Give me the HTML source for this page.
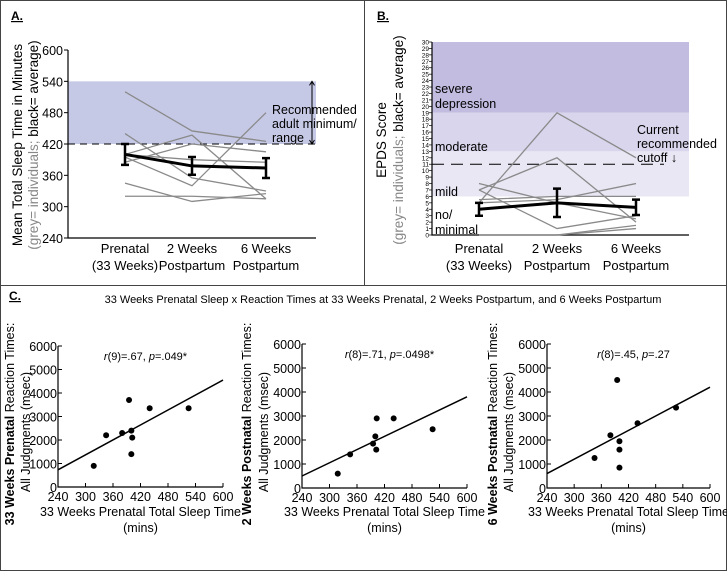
<!DOCTYPE html>
<html><head><meta charset="utf-8"><style>
body{margin:0;background:#fff;}
svg{display:block;font-family:"Liberation Sans",Arial,sans-serif;}
</style></head><body>
<svg id="fig" width="727" height="571" viewBox="0 0 727 571">
<rect x="0.5" y="0.5" width="726" height="570" fill="#fff" stroke="#444"/>
<line x1="0" y1="285.5" x2="727" y2="285.5" stroke="#444"/>
<line x1="364.5" y1="0" x2="364.5" y2="285" stroke="#444"/>
<g id="A"></g>
<g id="B"></g>
<g id="C"></g>
</svg>
<script>
// ---------- Panel A data ----------
const catsA = ["Prenatal|(33 Weeks)", "2 Weeks|Postpartum", "6 Weeks|Postpartum"];
const ticksA = [240, 300, 360, 420, 480, 540, 600];
const indivA = [
  [520, 445, 425], [440, 355, 330], [400, 437, 315], [395, 340, 480],
  [385, 420, 405], [400, 390, 385], [345, 310, 325], [320, 320, 315]
];
const meanA = [400, 378, 374];
const errA = [20, 17, 19];
// ---------- Panel B data ----------
const catsB = catsA;
const indivB = [
  [5, 19, 12], [7, 12, 2], [8, 5, 2.5], [7, 1, 3], [5, 5.5, 8],
  [5.5, 6, 6], [0, 0, 1.5], [0, 0, 1]
];
const meanB = [4, 5, 4.3];
const errB = [1, 2.2, 1.2];
const bandsB = [[19, 30, "#c1bce0"], [13, 19, "#d8d5ec"], [6, 13, "#e9e7f4"]];
// ---------- Panel C data ----------
const xTicksC = [240, 300, 360, 420, 480, 540, 600];
const yTicksC = [0, 1000, 2000, 3000, 4000, 5000, 6000];
const sleepC1 = [318, 345, 380, 395, 400, 402, 400, 440, 525];
const rtC1 = [900, 2200, 2300, 3700, 2400, 2100, 1400, 3350, 3350];
const fitC1 = [730, 4550];
const sleepC2 = [318, 345, 395, 400, 402, 403, 440, 525];
const rtC2 = [600, 1400, 1850, 2150, 1600, 2900, 2900, 2450];
const fitC2 = [500, 3800];
const sleepC3 = [345, 380, 395, 400, 400, 400, 440, 525];
const rtC3 = [1250, 2200, 4500, 1950, 1600, 850, 2700, 3350];
const fitC3 = [600, 4200];

const NS = "http://www.w3.org/2000/svg";
function mk(parent, tag, attrs, text) {
  const e = document.createElementNS(NS, tag);
  for (const k in attrs) e.setAttribute(k, attrs[k]);
  if (text !== undefined) e.textContent = text;
  parent.appendChild(e);
  return e;
}

// ================= Panel A =================
(function () {
  const g = document.getElementById("A");
  const x0 = 68, x1 = 316, yTop = 50, yBot = 238;
  const y = v => yBot - (v - 240) / 360 * (yBot - yTop);
  const cx = [125, 192, 266];
  let t = mk(g, "text", {x: 11, y: 20, "font-size": 12, "font-weight": "bold", "text-decoration": "underline"}, "A.");
  
  
  let r = mk(g, "rect", {x: x0, y: y(540), width: x1 - x0, height: y(420) - y(540), fill: "#c6c9e6"});
  
  
  let d = mk(g, "line", {x1: x0, x2: x1, y1: y(420), y2: y(420), stroke: "#000", "stroke-dasharray": "7,5"});
  
  
  let ar = mk(g, "path", {d: `M312 ${y(540)} V${y(420)} M309.5 ${y(540)+4} L312 ${y(540)} L314.5 ${y(540)+4} M309.5 ${y(420)-4} L312 ${y(420)} L314.5 ${y(420)-4}`, stroke: "#000", fill: "none"});
  
  
  ["Recommended", "adult minimum/", "range"].forEach((s, i) => {
    const e = mk(g, "text", {x: 272, y: 114 + i * 14, "font-size": 12.5}, s);
    
    
  });
  let ax = mk(g, "path", {d: `M${x0} ${yTop} V${yBot} H${x1}`, stroke: "#000", fill: "none", "stroke-width": 1.2});
  
  
  ticksA.forEach(v => {
    mk(g, "line", {x1: x0 - 4, x2: x0, y1: y(v), y2: y(v), stroke: "#000"});
    const e = mk(g, "text", {x: x0 - 5, y: y(v) + 5, "font-size": 12.5, "text-anchor": "end"}, v);
    
    
  });
  catsA.forEach((c, i) => {
    c.split("|").forEach((s, j) => {
      const e = mk(g, "text", {x: cx[i], y: 253 + j * 17, "font-size": 13, "text-anchor": "middle"}, s);
      
      
    });
  });
  let yt = mk(g, "text", {transform: "translate(22,145) rotate(-90)", "font-size": 13.5, "text-anchor": "middle"}, "Mean Total Sleep Time in Minutes");
  
  
  let yt2 = mk(g, "text", {transform: "translate(38,145) rotate(-90)", "font-size": 13.5, "text-anchor": "middle", fill: "#888"}, "(grey= individuals; ");
  
  
  mk(yt2, "tspan", {fill: "#000"}, "black= average)");
  indivA.forEach(s => {
    const p = mk(g, "polyline", {points: s.map((v, i) => cx[i] + "," + y(v)).join(" "), fill: "none", stroke: "#8a8a8a", "stroke-width": 1.3});
    
    
  });
  const m = mk(g, "polyline", {points: meanA.map((v, i) => cx[i] + "," + y(v)).join(" "), fill: "none", stroke: "#000", "stroke-width": 3});
  
  
  meanA.forEach((v, i) => {
    const e = mk(g, "path", {d: `M${cx[i]} ${y(v + errA[i])} V${y(v - errA[i])} M${cx[i]-4} ${y(v + errA[i])} H${cx[i]+4} M${cx[i]-4} ${y(v - errA[i])} H${cx[i]+4}`, stroke: "#000", "stroke-width": 2.5, fill: "none"});
    
    
  });
})();

// ================= Panel B =================
(function () {
  const g = document.getElementById("B");
  const x0 = 432, x1 = 689, yTop = 42, yBot = 235;
  const y = v => yBot - v / 30 * (yBot - yTop);
  const cx = [479, 557, 636];
  let t = mk(g, "text", {x: 377, y: 20, "font-size": 12, "font-weight": "bold", "text-decoration": "underline"}, "B.");
  
  
  bandsB.forEach(b => {
    const r = mk(g, "rect", {x: x0, y: y(b[1]), width: x1 - x0, height: y(b[0]) - y(b[1]), fill: b[2]});
    
    
  });
  let d = mk(g, "line", {x1: x0, x2: 664, y1: y(11), y2: y(11), stroke: "#000", "stroke-dasharray": "12,7"});
  
  
  ["Current", "recommended", "cutoff \u2193"].forEach((s, i) => {
    const e = mk(g, "text", {x: 637, y: 134 + i * 14, "font-size": 12.5}, s);
    
    
  });
  [["severe", 93], ["depression", 108], ["moderate", 151], ["mild", 196], ["no/", 219], ["minimal", 234]].forEach(a => {
    const e = mk(g, "text", {x: 435, y: a[1], "font-size": 12.5}, a[0]);
    
    
  });
  let ax = mk(g, "path", {d: `M${x0} ${yTop} V${yBot} H${x1}`, stroke: "#000", fill: "none", "stroke-width": 1.2});
  
  
  for (let v = 0; v <= 30; v++) {
    mk(g, "line", {x1: x0 - 3, x2: x0, y1: y(v), y2: y(v), stroke: "#000", "stroke-width": 0.7});
    const e = mk(g, "text", {x: x0 - 3, y: y(v) + 2.5, "font-size": 6.5, "text-anchor": "end"}, v);
    
    
  }
  catsB.forEach((c, i) => {
    c.split("|").forEach((s, j) => {
      const e = mk(g, "text", {x: cx[i], y: 253 + j * 17, "font-size": 13, "text-anchor": "middle"}, s);
      
      
    });
  });
  let yt = mk(g, "text", {transform: "translate(386,140) rotate(-90)", "font-size": 13.5, "text-anchor": "middle"}, "EPDS Score");
  
  
  let yt2 = mk(g, "text", {transform: "translate(403,140) rotate(-90)", "font-size": 13.5, "text-anchor": "middle", fill: "#888"}, "(grey= individuals; ");
  
  
  mk(yt2, "tspan", {fill: "#000"}, "black= average)");
  indivB.forEach(s => {
    const p = mk(g, "polyline", {points: s.map((v, i) => cx[i] + "," + y(v)).join(" "), fill: "none", stroke: "#8a8a8a", "stroke-width": 1.3});
    
    
  });
  const m = mk(g, "polyline", {points: meanB.map((v, i) => cx[i] + "," + y(v)).join(" "), fill: "none", stroke: "#000", "stroke-width": 3});
  
  
  meanB.forEach((v, i) => {
    const e = mk(g, "path", {d: `M${cx[i]} ${y(v + errB[i])} V${y(v - errB[i])} M${cx[i]-4} ${y(v + errB[i])} H${cx[i]+4} M${cx[i]-4} ${y(v - errB[i])} H${cx[i]+4}`, stroke: "#000", "stroke-width": 2.5, fill: "none"});
    
    
  });
})();

// ================= Panel C =================
(function () {
  const g = document.getElementById("C");
  let t = mk(g, "text", {x: 9, y: 300, "font-size": 12, "font-weight": "bold", "text-decoration": "underline"}, "C.");
  
  
  let tt = mk(g, "text", {x: 383, y: 303, "font-size": 11, "text-anchor": "middle"}, "33 Weeks Prenatal Sleep x Reaction Times at 33 Weeks Prenatal, 2 Weeks Postpartum, and 6 Weeks Postpartum");
  
  
  const plots = [
    {x0: 58, x1: 223, yTop: 346, yBot: 487, xs: sleepC1, ys: rtC1, fit: fitC1, bold: "33 Weeks Prenatal", ann: ["r", "(9)=.67, ", "p", "=.049*"], tx: 14, tx2: 30, name: "scatter-prenatal"},
    {x0: 302, x1: 467, yTop: 344, yBot: 488, xs: sleepC2, ys: rtC2, fit: fitC2, bold: "2 Weeks Postnatal", ann: ["r", "(8)=.71, ", "p", "=.0498*"], tx: 251, tx2: 268, name: "scatter-2-weeks"},
    {x0: 547, x1: 710, yTop: 344, yBot: 488, xs: sleepC3, ys: rtC3, fit: fitC3, bold: "6 Weeks Postnatal", ann: ["r", "(8)=.45, ", "p", "=.27"], tx: 497, tx2: 513, name: "scatter-6-weeks"}
  ];
  plots.forEach(P => {
    const sg = mk(g, "g", {});
    
    
    const X = v => P.x0 + (v - 240) / 360 * (P.x1 - P.x0);
    const Y = v => P.yBot - v / 6000 * (P.yBot - P.yTop);
    const ax = mk(sg, "path", {d: `M${P.x0} ${P.yTop} V${P.yBot} H${P.x1}`, stroke: "#000", fill: "none", "stroke-width": 1.2});
    
    
    yTicksC.forEach(v => {
      mk(sg, "line", {x1: P.x0, x2: P.x0 + 4, y1: Y(v), y2: Y(v), stroke: "#000"});
      const e = mk(sg, "text", {x: P.x0 - 1, y: Y(v) + 5, "font-size": 12.5, "text-anchor": "end"}, v);
      
      
    });
    xTicksC.forEach(v => {
      mk(sg, "line", {x1: X(v), x2: X(v), y1: P.yBot, y2: P.yBot - 4, stroke: "#000"});
      const e = mk(sg, "text", {x: X(v), y: P.yBot + 14, "font-size": 12.5, "text-anchor": "middle"}, v);
      
      
    });
    const f = mk(sg, "line", {x1: X(240), y1: Y(P.fit[0]), x2: X(600), y2: Y(P.fit[1]), stroke: "#000", "stroke-width": 1.5});
    
    
    P.xs.forEach((v, i) => {
      const c = mk(sg, "circle", {cx: X(v), cy: Y(P.ys[i]), r: 3, fill: "#000"});
      
      
    });
    const a = mk(sg, "text", {x: (P.x0 + P.x1) / 2 + 5, y: P.yTop + 14, "font-size": 11, "text-anchor": "middle"});
    
    
    mk(a, "tspan", {"font-style": "italic"}, P.ann[0]);
    mk(a, "tspan", {}, P.ann[1]);
    mk(a, "tspan", {"font-style": "italic"}, P.ann[2]);
    mk(a, "tspan", {}, P.ann[3]);
    const cxm = (P.x0 + P.x1) / 2;
    const x1t = mk(sg, "text", {x: cxm, y: 516, "font-size": 12.5, "text-anchor": "middle"}, "33 Weeks Prenatal Total Sleep Time");
    
    
    const x2t = mk(sg, "text", {x: cxm, y: 532, "font-size": 12.5, "text-anchor": "middle"}, "(mins)");
    
    
    const y1 = mk(sg, "text", {transform: `translate(${P.tx},424) rotate(-90)`, "font-size": 12.5, "text-anchor": "middle"});
    
    
    mk(y1, "tspan", {"font-weight": "bold"}, P.bold);
    mk(y1, "tspan", {}, " Reaction Times:");
    const y2 = mk(sg, "text", {transform: `translate(${P.tx2},432) rotate(-90)`, "font-size": 12.5, "text-anchor": "middle"}, "All Judgments (msec)");
    
    
  });
})();
</script>
</body></html>
